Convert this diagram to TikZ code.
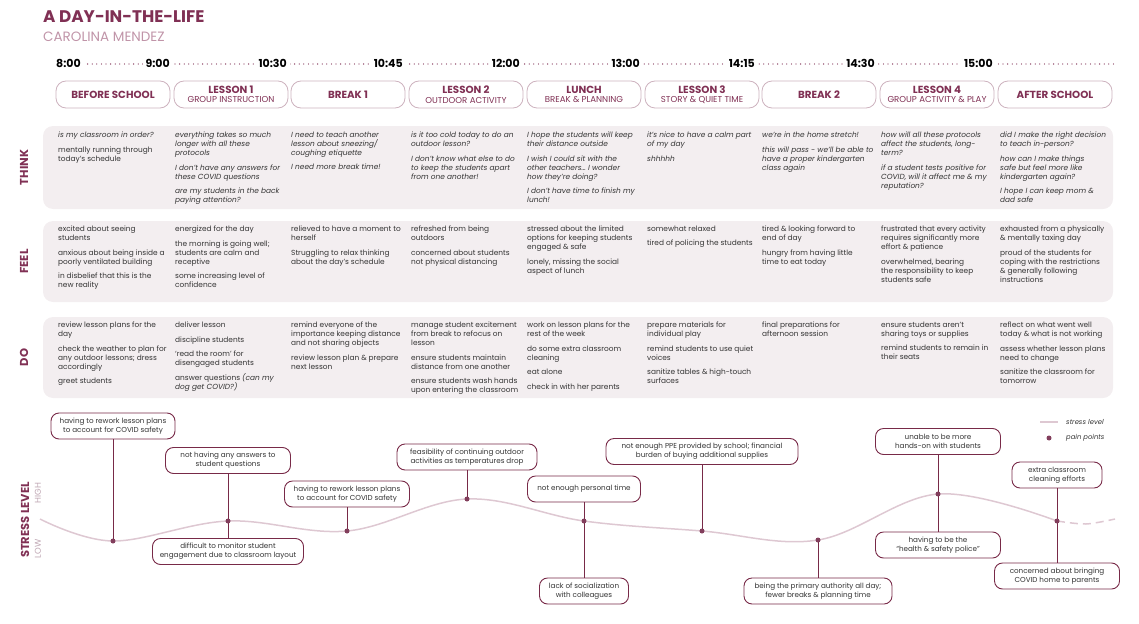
\documentclass[tikz,border=0pt]{standalone}
\usepackage{fontspec}
\setmainfont{Poppins}
\definecolor{wine}{RGB}{128,48,84}
\definecolor{rose}{RGB}{192,148,168}
\definecolor{pillline}{RGB}{205,178,190}
\definecolor{bandfill}{RGB}{243,238,240}
\definecolor{ink}{RGB}{52,52,52}
\definecolor{painline}{RGB}{120,42,72}
\definecolor{curve}{RGB}{222,200,210}
\definecolor{dotc}{RGB}{130,62,92}
\definecolor{faint}{RGB}{190,165,178}
\newcommand{\pgap}{\\[5.7pt]}
\newcommand{\slotsub}[1]{{\mdseries\fontsize{8.6}{10}\selectfont #1}}

\begin{document}
\begin{tikzpicture}[x=1pt, y=-1pt,
  every node/.style={inner sep=0pt},
  cell/.style={anchor=north west, align=left, text=ink, font=\fontsize{7.4}{9}\selectfont},
  thought/.style={cell, font=\fontsize{7.4}{9}\selectfont\itshape},
  slot/.style={draw=pillline, line width=0.8pt, rounded corners=10pt, minimum width=114pt,
    minimum height=27pt, align=center, text=wine, font=\fontsize{10.3}{9.5}\selectfont\bfseries},
  clock/.style={fill=white, inner xsep=3pt, inner ysep=2pt, font=\fontsize{11}{11}\selectfont\bfseries},
  rowlabel/.style={rotate=90, text=wine, font=\fontsize{11.5}{12}\selectfont\bfseries},
  band/.style={fill=bandfill, rounded corners=10pt},
  pain/.style={draw=painline, line width=0.9pt, fill=white, rounded corners=8pt,
    minimum height=26pt, align=center, text=ink, font=\fontsize{7.2}{9}\selectfont},
  link/.style={draw=painline, line width=0.9pt},
  stress/.style={draw=curve, line width=1.5pt},
  paindot/.style={fill=dotc}]
\useasboundingbox (0,0) rectangle (1139,623);

% title
\node[anchor=base west, text=wine, font=\fontsize{16.8}{17}\selectfont\bfseries] (title) at (43,23) {A DAY-IN-THE-LIFE};
\node[anchor=base west, text=rose, font=\fontsize{13.5}{14}\selectfont] (persona) at (43,41.5) {CAROLINA MENDEZ};

% time line
\draw[wine, line width=1.3pt, dash pattern=on 0pt off 4.6pt, line cap=round] (60,64) -- (1115,64);
\node[clock, anchor=base west] (t800) at (53,68) {8:00};
\node[clock, anchor=base east] (t900) at (173,68) {9:00};
\node[clock, anchor=base east] (t1030) at (290,68) {10:30};
\node[clock, anchor=base east] (t1045) at (406,68) {10:45};
\node[clock, anchor=base east] (t1200) at (523,68) {12:00};
\node[clock, anchor=base east] (t1300) at (643,68) {13:00};
\node[clock, anchor=base east] (t1415) at (758,68) {14:15};
\node[clock, anchor=base east] (t1430) at (878,68) {14:30};
\node[clock, anchor=base east] (t1500) at (996,68) {15:00};

% phases
\node[slot] (before) at (113,94.5) {BEFORE SCHOOL};
\node[slot] (lesson1) at (231,94.5) {LESSON 1\\\slotsub{GROUP INSTRUCTION}};
\node[slot] (break1) at (348,94.5) {BREAK 1};
\node[slot] (lesson2) at (466,94.5) {LESSON 2\\\slotsub{OUTDOOR ACTIVITY}};
\node[slot] (lunch) at (584,94.5) {LUNCH\\\slotsub{BREAK \& PLANNING}};
\node[slot] (lesson3) at (702,94.5) {LESSON 3\\\slotsub{STORY \& QUIET TIME}};
\node[slot] (break2) at (819,94.5) {BREAK 2};
\node[slot] (lesson4) at (937,94.5) {LESSON 4\\\slotsub{GROUP ACTIVITY \& PLAY}};
\node[slot] (after) at (1055,94.5) {AFTER SCHOOL};

% rows
\fill[band] (43,126) rectangle (1113,209);
\fill[band] (43,221) rectangle (1113,302);
\fill[band] (43,317) rectangle (1113,398);
\node[rowlabel] (think) at (24,167.5) {THINK};
\node[rowlabel] (feel) at (24,261.5) {FEEL};
\node[rowlabel] (do) at (24,357.5) {DO};

% think
\node[thought] (think1) at (58,131.5) {is my classroom in order?\pgap\upshape mentally running through\\\upshape today’s schedule};
\node[thought] (think2) at (175,131.5) {everything takes so much\\longer with all these\\protocols\pgap I don’t have any answers for\\these COVID questions\pgap are my students in the back\\paying attention?};
\node[thought] (think3) at (291,131.5) {I need to teach another\\lesson about sneezing/\\coughing etiquette\pgap I need more break time!};
\node[thought] (think4) at (411,131.5) {is it too cold today to do an\\outdoor lesson?\pgap I don’t know what else to do\\to keep the students apart\\from one another!};
\node[thought] (think5) at (527,131.5) {I hope the students will keep\\their distance outside\pgap I wish I could sit with the\\other teachers… I wonder\\how they’re doing?\pgap I don’t have time to finish my\\lunch!};
\node[thought] (think6) at (647,131.5) {it’s nice to have a calm part\\of my day\pgap shhhhh};
\node[thought] (think7) at (762,131.5) {we’re in the home stretch!\pgap this will pass - we’ll be able to\\have a proper kindergarten\\class again};
\node[thought] (think8) at (881,131.5) {how will all these protocols\\affect the students, long-\\term?\pgap if a student tests positive for\\COVID, will it affect me \& my\\reputation?};
\node[thought] (think9) at (1000,131.5) {did I make the right decision\\to teach in-person?\pgap how can I make things\\safe but feel more like\\kindergarten again?\pgap I hope I can keep mom \&\\dad safe};

% feel
\node[cell] (feel1) at (58,225.5) {excited about seeing\\students\pgap anxious about being inside a\\poorly ventilated building\pgap in disbelief that this is the\\new reality};
\node[cell] (feel2) at (175,225.5) {energized for the day\pgap the morning is going well;\\students are calm and\\receptive\pgap some increasing level of\\confidence};
\node[cell] (feel3) at (291,225.5) {relieved to have a moment to\\herself\pgap Struggling to relax thinking\\about the day’s schedule};
\node[cell] (feel4) at (411,225.5) {refreshed from being\\outdoors\pgap concerned about students\\not physical distancing};
\node[cell] (feel5) at (527,225.5) {stressed about the limited\\options for keeping students\\engaged \& safe\pgap lonely, missing the social\\aspect of lunch};
\node[cell] (feel6) at (647,225.5) {somewhat relaxed\pgap tired of policing the students};
\node[cell] (feel7) at (762,225.5) {tired \& looking forward to\\end of day\pgap hungry from having little\\time to eat today};
\node[cell] (feel8) at (881,225.5) {frustrated that every activity\\requires significantly more\\effort \& patience\pgap overwhelmed, bearing\\the responsibility to keep\\students safe};
\node[cell] (feel9) at (1000,225.5) {exhausted from a physically\\\& mentally taxing day\pgap proud of the students for\\coping with the restrictions\\\& generally following\\instructions};

% do
\node[cell] (do1) at (58,321.5) {review lesson plans for the\\day\pgap check the weather to plan for\\any outdoor lessons; dress\\accordingly\pgap greet students};
\node[cell] (do2) at (175,321.5) {deliver lesson\pgap discipline students\pgap ‘read the room’ for\\disengaged students\pgap answer questions {\itshape (can my}\\{\itshape dog get COVID?)}};
\node[cell] (do3) at (291,321.5) {remind everyone of the\\importance keeping distance\\and not sharing objects\pgap review lesson plan \& prepare\\next lesson};
\node[cell] (do4) at (411,321.5) {manage student excitement\\from break to refocus on\\lesson\pgap ensure students maintain\\distance from one another\pgap ensure students wash hands\\upon entering the classroom};
\node[cell] (do5) at (527,321.5) {work on lesson plans for the\\rest of the week\pgap do some extra classroom\\cleaning\pgap eat alone\pgap check in with her parents};
\node[cell] (do6) at (647,321.5) {prepare materials for\\individual play\pgap remind students to use quiet\\voices\pgap sanitize tables \& high-touch\\surfaces};
\node[cell] (do7) at (762,321.5) {final preparations for\\afternoon session};
\node[cell] (do8) at (881,321.5) {ensure students aren’t\\sharing toys or supplies\pgap remind students to remain in\\their seats};
\node[cell] (do9) at (1000,321.5) {reflect on what went well\\today \& what is not working\pgap assess whether lesson plans\\need to change\pgap sanitize the classroom for\\tomorrow};

% stress level
\node[rowlabel] (stresslabel) at (25,520) {STRESS LEVEL};
\node[rotate=90, text=faint, font=\fontsize{8.5}{8.5}\selectfont] (high) at (38,493) {HIGH};
\node[rotate=90, text=faint, font=\fontsize{8.5}{8.5}\selectfont] (low) at (38,549) {LOW};

\coordinate (p1) at (113,541);
\coordinate (p2) at (228,521);
\coordinate (p3) at (347,531);
\coordinate (p4) at (467,499);
\coordinate (p5) at (584,521);
\coordinate (p6) at (702,531);
\coordinate (p7) at (818,540);
\coordinate (p8) at (938,494);
\coordinate (p9) at (1057,521);

\draw[stress] plot[smooth, tension=0.6] coordinates {(40,519) (p1) (p2) (p3) (p4) (p5) (p6) (p7) (p8) (p9)};
\draw[stress, dash pattern=on 8pt off 5pt] plot[smooth] coordinates {(p9) (1086,524) (1115,519)};

% pain points
\node[pain, minimum width=124] (rework1) at (113,426) {having to rework lesson plans\\to account for COVID safety};
\node[pain, minimum width=125] (answers) at (228,460.5) {not having any answers to\\student questions};
\node[pain, minimum width=151] (monitor) at (228,551.5) {difficult to monitor student\\engagement due to classroom layout};
\node[pain, minimum width=125] (rework2) at (347,494) {having to rework lesson plans\\to account for COVID safety};
\node[pain, minimum width=140] (outdoor) at (467,457) {feasibility of continuing outdoor\\activities as temperatures drop};
\node[pain, minimum width=113] (owntime) at (584,489) {not enough personal time};
\node[pain, minimum width=89] (lonely) at (584,591) {lack of socialization\\with colleagues};
\node[pain, minimum width=192] (ppe) at (702,451.5) {not enough PPE provided by school; financial\\burden of buying additional supplies};
\node[pain, minimum width=148] (authority) at (818,591) {being the primary authority all day;\\fewer breaks \& planning time};
\node[pain, minimum width=125] (handson) at (938,441.5) {unable to be more\\hands-on with students};
\node[pain, minimum width=125] (police) at (938,545) {having to be the\\“health \& safety police”};
\node[pain, minimum width=90] (cleaning) at (1057,475) {extra classroom\\cleaning efforts};
\node[pain, minimum width=125] (bringhome) at (1057,576) {concerned about bringing\\COVID home to parents};

\draw[link] (rework1) -- (p1);
\draw[link] (answers) -- (monitor);
\draw[link] (rework2) -- (p3);
\draw[link] (outdoor) -- (p4);
\draw[link] (owntime) -- (lonely);
\draw[link] (ppe) -- (p6);
\draw[link] (p7) -- (authority);
\draw[link] (handson) -- (police);
\draw[link] (cleaning) -- (bringhome);

\foreach \p in {p1,p2,p3,p4,p5,p6,p7,p8,p9}
  \fill[paindot] (\p) circle (2.5pt);

% legend
\draw[stress] (1040,422) -- (1058,422);
\node[anchor=west, text=ink, font=\fontsize{6.8}{8}\selectfont\itshape] (legcurve) at (1066,422) {stress level};
\fill[paindot] (1049,438) circle (2.5pt);
\node[anchor=west, text=ink, font=\fontsize{6.8}{8}\selectfont\itshape] (legdot) at (1066,438) {pain points};
\end{tikzpicture}
\end{document}
